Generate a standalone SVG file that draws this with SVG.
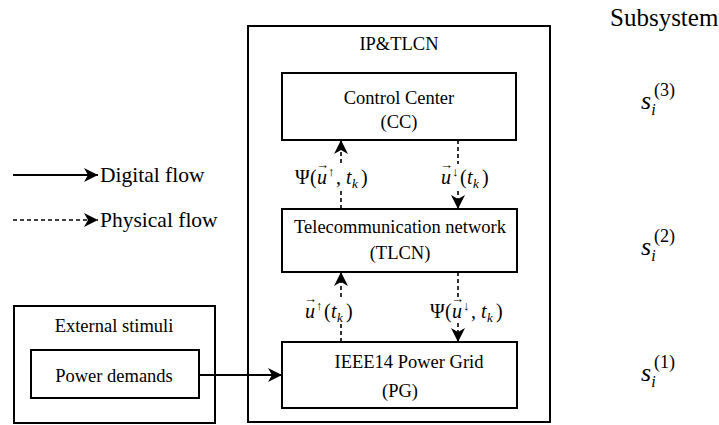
<svg xmlns="http://www.w3.org/2000/svg" width="719" height="425" viewBox="0 0 719 425">
<style>
text{font-family:'Liberation Serif','Times New Roman',serif;fill:#000}
.box{fill:#fff;stroke:#000;stroke-width:2}
.t{font-size:18.5px;text-anchor:middle}
.lg{font-size:21.5px}
.m{font-size:20px}
.i{font-style:italic}
.sm{font-size:13px}
.sol{fill:none;stroke:#000;stroke-width:2}
.dash{fill:none;stroke:#000;stroke-width:1.6;stroke-dasharray:4,3}
</style>
<defs>
<marker id="ah" markerUnits="userSpaceOnUse" markerWidth="16" markerHeight="16" refX="14" refY="8" orient="auto">
<path d="M14,8 L0,1 L4,8 L0,15 Z" fill="#000"/>
</marker>
</defs>
<rect width="719" height="425" fill="#fff"/>
<g id="ip-tlcn">
<rect class="box" x="248" y="26" width="302" height="396"/>
<text class="t" x="399" y="50">IP&amp;TLCN</text>
</g>
<g id="cc">
<rect class="box" x="282" y="73" width="234" height="67"/>
<text class="t" x="399" y="104">Control Center</text>
<text class="t" x="399" y="128">(CC)</text>
</g>
<g id="tlcn">
<rect class="box" x="282" y="209" width="235" height="63"/>
<text class="t" x="400" y="233">Telecommunication network</text>
<text class="t" x="400" y="259">(TLCN)</text>
</g>
<g id="pg">
<rect class="box" x="282" y="342" width="235" height="66"/>
<text class="t" x="409" y="368">IEEE14 Power Grid</text>
<text class="t" x="400" y="397">(PG)</text>
</g>
<g id="external">
<rect class="box" x="14" y="306" width="201" height="117"/>
<text class="t" x="114" y="332">External stimuli</text>
</g>
<g id="power-demands">
<rect class="box" x="31" y="350" width="168" height="48"/>
<text class="t" x="114" y="382">Power demands</text>
</g>
<g id="legend">
<line class="sol" x1="13" y1="175" x2="98" y2="175" marker-end="url(#ah)"/>
<text class="lg" x="100" y="182">Digital flow</text>
<line class="dash" x1="13" y1="220" x2="98" y2="220" marker-end="url(#ah)"/>
<text class="lg" x="100" y="227">Physical flow</text>
</g>
<g id="connectors">
<line class="sol" x1="199" y1="375" x2="282" y2="375" marker-end="url(#ah)"/>
<path class="dash" d="M341,209 V191 M341,163 V140" marker-end="url(#ah)"/>
<path class="dash" d="M458,140 V164 M458,191 V209" marker-end="url(#ah)"/>
<path class="dash" d="M341,342 V323 M341,297 V272" marker-end="url(#ah)"/>
<path class="dash" d="M458,272 V298 M458,323 V342" marker-end="url(#ah)"/>
</g>
<g id="labels">
<text class="m" y="184"><tspan x="295">Ψ</tspan><tspan x="310">(</tspan><tspan class="i" x="317">u</tspan><tspan class="sm" x="316" y="169">→</tspan><tspan class="sm" x="328" y="176">↑</tspan><tspan x="336" y="184">,</tspan><tspan class="i" x="346">t</tspan><tspan class="i sm" x="352" y="188">k</tspan><tspan x="361" y="184">)</tspan></text>
<text class="m" y="184"><tspan class="i" x="441">u</tspan><tspan class="sm" x="440" y="169">→</tspan><tspan class="sm" x="452" y="176">↓</tspan><tspan x="460" y="184">(</tspan><tspan class="i" x="467">t</tspan><tspan class="i sm" x="473" y="188">k</tspan><tspan x="482" y="184">)</tspan></text>
<text class="m" y="318"><tspan class="i" x="305">u</tspan><tspan class="sm" x="304" y="303">→</tspan><tspan class="sm" x="316" y="310">↑</tspan><tspan x="324" y="318">(</tspan><tspan class="i" x="331">t</tspan><tspan class="i sm" x="337" y="322">k</tspan><tspan x="346" y="318">)</tspan></text>
<text class="m" y="318"><tspan x="430">Ψ</tspan><tspan x="445">(</tspan><tspan class="i" x="452">u</tspan><tspan class="sm" x="451" y="303">→</tspan><tspan class="sm" x="463" y="310">↓</tspan><tspan x="471" y="318">,</tspan><tspan class="i" x="481">t</tspan><tspan class="i sm" x="487" y="322">k</tspan><tspan x="496" y="318">)</tspan></text>
</g>
<g id="subsystem">
<text x="610" y="26" font-size="25">Subsystem</text>
<text x="641" y="109" font-size="26"><tspan font-style="italic">s</tspan><tspan font-style="italic" font-size="16" dy="6">i</tspan><tspan font-size="18" x="654" dy="-19">(3)</tspan></text>
<text x="641" y="255" font-size="26"><tspan font-style="italic">s</tspan><tspan font-style="italic" font-size="16" dy="6">i</tspan><tspan font-size="18" x="654" dy="-19">(2)</tspan></text>
<text x="641" y="381" font-size="26"><tspan font-style="italic">s</tspan><tspan font-style="italic" font-size="16" dy="6">i</tspan><tspan font-size="18" x="654" dy="-19">(1)</tspan></text>
</g>
</svg>
